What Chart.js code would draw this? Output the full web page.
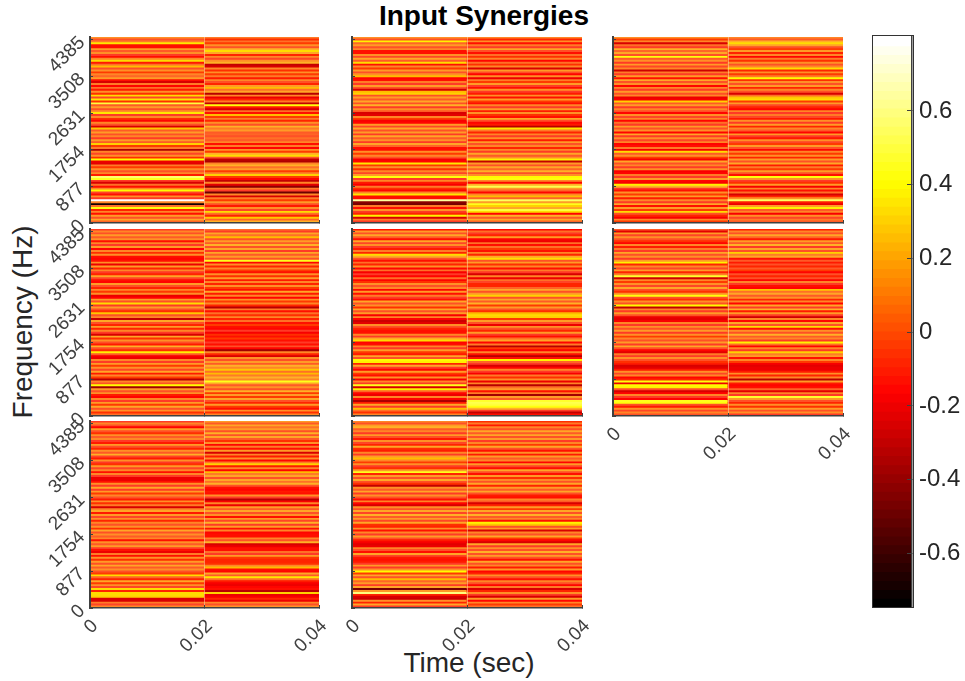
<!DOCTYPE html>
<html>
<head>
<meta charset="utf-8">
<title>Input Synergies</title>
<script src="https://cdn.jsdelivr.net/npm/chart.js@4"></script>
<style>
  html, body { margin: 0; background: #fff; }
  #page { position: relative; width: 965px; height: 681px; overflow: hidden; font-family: "Liberation Sans", sans-serif; color: #262626; }
  canvas { position: absolute; }
  .txt { position: absolute; white-space: nowrap; }
  #title { left: 284px; width: 400px; top: 0px; text-align: center; font-size: 28px; font-weight: bold; color: #000; }
  #xlab { left: 269px; width: 400px; top: 647px; text-align: center; font-size: 28px; }
  #ylab { left: -177px; width: 400px; top: 306px; text-align: center; font-size: 28px; transform: rotate(-90deg); }
  #cbframe { position: absolute; left: 872px; top: 35px; width: 40px; height: 571px; border: 1.5px solid #333; }
</style>
</head>
<body>
<div id="page">
  <div class="txt" id="title">Input Synergies</div>
  <div class="txt" id="xlab">Time (sec)</div>
  <div class="txt" id="ylab">Frequency (Hz)</div>
</div>
<script>
// values in hundredths, rows listed top (high freq) to bottom, a = 0-0.02 s, b = 0.02-0.04 s
const p1a = [16,2,12,36,-14,-12,18,4,16,-2,-14,14,34,-10,8,26,2,16,-4,14,6,18,-14,-26,12,-16,10,-10,16,-6,32,0,36,-6,50,4,18,2,16,36,-2,14,-6,-16,14,2,-24,28,4,18,2,14,-2,18,4,30,-4,12,-34,14,0,16,-6,40,-20,-22,12,-4,16,2,14,-10,58,46,-2,-26,8,-12,14,40,0,-14,16,-2,78,14,-68,8,42,-8,14,-12,18,2,20,6];
const p1b = [12,-6,10,-4,16,2,24,32,20,-8,14,0,16,24,-30,-24,14,-6,16,-4,12,-10,14,2,-8,18,26,10,20,-32,14,-20,-8,12,-30,44,-10,-24,10,-12,26,-4,12,-8,16,2,24,12,18,4,6,2,8,4,14,-12,12,-16,16,-4,24,32,2,-30,-34,14,24,8,18,-4,14,30,-4,-16,-30,14,-22,-42,12,-2,-48,14,-26,12,-4,18,2,-10,16,0,32,8,-8,28,6,24];
const p2a = [16,2,38,6,18,2,14,-14,-12,16,0,20,4,32,-12,14,-4,18,2,16,26,-16,-14,12,-2,18,2,-26,26,30,2,18,4,20,2,24,-2,16,4,-24,-22,14,-4,-18,-16,18,0,20,2,18,-2,22,4,16,-2,20,6,-12,-14,16,-4,14,2,-18,-16,36,-4,16,-6,14,0,18,42,-2,14,-10,-18,12,-6,-16,14,36,-12,-14,64,-42,-46,12,-12,16,-2,-8,38,-26,12,-2];
const p2b = [14,-8,16,-12,12,-2,20,2,-14,10,-6,14,-16,8,-6,14,-24,18,2,-16,16,-20,12,-4,18,-2,-12,16,-2,-10,16,-12,18,-4,-14,14,-2,18,-10,16,-6,-14,20,2,-16,-10,-32,36,12,-8,14,-2,16,-10,18,2,14,-8,14,-2,20,4,16,38,-30,18,2,22,6,24,2,16,40,42,14,-16,24,52,18,6,-16,14,26,6,54,18,46,30,20,50,34,-16,24,4,20,6];
const p3a = [16,-4,14,-26,10,-2,24,6,20,2,42,4,16,-2,18,0,14,-28,12,-2,18,-14,20,2,16,-16,14,-2,18,2,14,-20,-18,30,4,18,-2,14,2,-16,16,0,14,-16,10,-2,18,2,16,-16,20,-2,16,0,14,-16,-14,12,-18,34,4,16,-4,-18,20,2,14,-2,16,-18,-16,12,-2,18,-16,-18,38,24,-2,-12,16,-4,18,-10,14,-2,22,-12,18,-4,32,2,-8,-18,14,-4];
const p3b = [14,4,24,32,20,2,-4,18,-8,14,-16,12,-6,16,2,14,32,-8,16,-4,12,40,-6,16,2,18,-8,14,2,-26,10,28,32,-4,18,0,-8,-16,14,-2,12,0,-10,16,-2,18,-8,14,4,-16,18,-2,-10,16,0,-4,18,2,-16,14,-4,16,-8,18,2,20,-10,12,-4,18,2,-14,42,16,-2,-6,18,-18,14,-14,8,-26,-8,16,56,-10,-20,18,38,4,14,-18,16,0,12,4];
const p4a = [-2,14,2,18,4,16,-14,14,-2,18,-16,14,-6,16,-14,-16,-12,16,-20,18,-8,14,-2,-8,20,0,-12,-16,18,2,-8,14,-4,16,-20,-16,18,2,32,-2,18,2,-6,28,2,14,-30,20,2,-8,18,-8,14,-2,-26,22,-6,16,2,-10,24,2,-6,38,4,-18,-20,14,-2,18,-4,16,0,20,-10,14,-4,-32,14,2,40,-36,18,2,16,-10,-16,14,-2,18,-4,20,2,16,-6,10];
const p4b = [10,-2,20,8,26,2,18,4,24,2,20,-2,22,4,18,2,46,-16,16,-8,14,-4,-12,16,-6,18,-10,14,-8,16,-4,-12,20,-10,14,-16,16,-4,14,-8,-32,12,-12,8,-6,14,-8,8,-14,-4,-12,-16,-2,-18,-6,-14,-4,-12,-2,-14,2,-16,-38,14,-8,-26,16,2,18,4,24,14,28,8,26,12,24,14,46,20,4,16,2,24,-4,18,-4,20,2,-8,18,-4,-12,16,-6,14];
const p5a = [-12,18,2,20,4,-14,22,0,16,-2,-10,12,-8,34,20,2,-12,8,-8,16,-16,10,-18,-2,-16,10,-16,-6,16,2,14,-16,18,-14,12,-2,-14,20,2,16,-6,22,2,18,-18,14,-16,-28,-22,16,2,-8,-12,-14,14,-2,22,34,-16,-12,14,-2,18,-4,-10,20,2,40,38,-8,20,-2,-16,18,-4,-14,16,-18,14,-2,46,-26,38,6,-16,-20,14,-16,-34,-10,20,-2,26,10,-6,14];
const p5b = [-16,10,-2,-8,18,-16,-20,10,-14,8,-4,-14,14,-8,20,34,2,18,-6,14,-14,12,-2,-24,14,-20,10,0,-8,-8,6,20,2,18,30,2,20,4,24,-4,18,2,-6,26,32,30,-4,18,2,-20,16,2,-8,18,-2,-14,8,20,-16,12,-32,-4,-16,14,-12,-32,-14,38,6,-2,-24,-16,14,-2,-18,12,-6,16,-20,14,-32,8,18,-14,12,-36,18,4,48,52,50,44,24,-2,-30,-12];
const p6a = [4,-22,18,0,16,2,-6,-16,14,-10,12,-2,20,2,16,-2,18,38,-8,14,0,18,-8,12,48,-28,14,-4,16,0,20,2,-6,16,44,2,-6,16,2,40,-30,14,-2,18,2,-20,-22,-18,14,-2,16,2,18,-2,16,-4,14,2,18,-2,20,2,-16,-22,12,-2,16,2,-6,-10,-26,-22,-10,16,0,14,-16,-8,44,-20,40,38,2,-24,-16,14,-2,-16,46,42,2,-10,16,0,14,2];
const p6b = [-10,14,2,20,6,-10,18,4,24,-2,20,2,30,12,22,-12,4,-10,2,-8,4,-4,-16,2,-8,2,-16,14,-2,-12,-16,28,10,22,4,16,-8,14,-16,20,-2,24,-10,18,-2,-28,14,-16,20,2,34,-14,16,2,24,4,14,-2,38,8,-16,14,-2,30,12,18,-12,14,-4,-18,-22,-20,-20,-10,16,-8,14,-32,18,-10,-16,-12,6,-22,14,-2,48,18,2,-8,16,-6,18,2,16,-2];
const p7a = [-2,14,2,-16,18,2,-6,16,4,14,-2,-10,18,2,-8,16,4,24,0,-10,16,-2,-6,18,0,14,-12,14,-2,-20,-20,-14,16,-2,20,-2,18,-4,14,2,-10,16,-6,12,-24,14,22,-10,18,0,16,-8,14,2,16,-6,20,2,16,4,14,-12,16,4,18,-2,-14,-20,12,-14,16,-6,18,2,20,4,16,2,-4,34,6,-8,22,-4,16,0,32,-8,34,32,30,-26,-24,12,0,14];
const p7b = [18,4,22,8,18,2,24,2,20,4,-6,16,-16,12,-12,18,-24,14,-10,16,-16,12,30,-10,14,-16,26,12,20,2,22,8,24,2,-12,-16,-10,-14,16,-2,-32,-18,14,-20,18,4,22,2,16,-14,18,0,24,-2,18,-12,14,-16,-14,-12,14,2,24,-26,-20,-12,-14,10,-2,18,-4,-8,-8,-6,14,26,-14,-16,20,4,36,8,-10,-18,-20,-16,-12,-32,30,-20,-18,-8,-20,14,2,16];
const p8a = [14,2,18,24,4,14,-2,18,2,-10,16,0,-8,20,-6,-10,14,-2,18,26,14,-4,16,-2,-6,18,46,-8,18,2,20,2,-6,-30,16,4,20,-2,16,2,-12,14,-16,-24,16,2,22,0,24,4,18,0,20,-6,-8,16,-14,14,-2,18,2,-10,-18,-22,-20,14,2,-14,20,0,-10,-12,-10,-2,18,-2,16,40,-4,22,2,26,6,18,-2,22,-46,18,60,-8,-26,-28,16,-8,20,-2];
const p8b = [-6,12,-10,14,2,20,4,22,2,18,-2,14,-4,20,2,-12,16,-10,18,4,14,-16,18,0,-12,20,2,-14,18,-6,14,2,20,-8,18,4,22,2,-10,-12,14,4,-24,-8,18,-4,20,2,24,4,14,-14,38,28,2,18,-24,14,2,20,-4,-16,-26,20,-2,16,2,24,2,18,2,-12,20,2,14,-10,18,-16,-8,16,2,-14,14,2,-16,12,-26,-8,16,-2,-24,18,-16,14,-4,10];

const panels = [
  { col: 0, row: 0, a: p1a, b: p1b, yLab: true, xLab: false },
  { col: 1, row: 0, a: p2a, b: p2b, yLab: false, xLab: false },
  { col: 2, row: 0, a: p3a, b: p3b, yLab: false, xLab: false },
  { col: 0, row: 1, a: p4a, b: p4b, yLab: true, xLab: false },
  { col: 1, row: 1, a: p5a, b: p5b, yLab: false, xLab: false },
  { col: 2, row: 1, a: p6a, b: p6b, yLab: false, xLab: true },
  { col: 0, row: 2, a: p7a, b: p7b, yLab: true, xLab: true },
  { col: 1, row: 2, a: p8a, b: p8b, yLab: false, xLab: true },
];

const timeEdges = [0, 0.02, 0.04];
const xTickLabels = ['0', '0.02', '0.04'];
const yTicks = [0, 877, 1754, 2631, 3508, 4385];
const yMax = 4450;

const barTicks = [-0.6, -0.4, -0.2, 0, 0.2, 0.4, 0.6];
const barLevels = [-0.733,-0.709,-0.685,-0.661,-0.636,-0.612,-0.588,-0.564,-0.540,-0.516,-0.491,-0.467,-0.443,-0.419,-0.395,-0.371,-0.347,-0.322,-0.298,-0.274,-0.250,-0.226,-0.202,-0.177,-0.153,-0.129,-0.105,-0.081,-0.057,-0.032,-0.008,0.016,0.040,0.064,0.088,0.112,0.137,0.161,0.185,0.209,0.233,0.257,0.282,0.306,0.330,0.354,0.378,0.402,0.426,0.451,0.475,0.499,0.523,0.547,0.571,0.596,0.620,0.644,0.668,0.692,0.716,0.741,0.765,0.789];
const cMin = -0.745, cMax = 0.803;

const colX = [[90, 319], [352, 582], [613, 843]];
const rowY = [[37, 223], [229, 416], [421, 608]];
const M = { l: 62, t: 24, r: 34, b: 62 };
const axisColor = '#404040';

// matlab "hot" with 64 steps
function hot(v, tint = 0) {
  const t = Math.max(0, Math.min(63, Math.floor((v - cMin) / (cMax - cMin) * 64))) / 63;
  const r = Math.min(1, t / 0.375);
  const g = Math.max(0, Math.min(1, (t - 0.375) / 0.375));
  const b = Math.max(0, (t - 0.75) / 0.25);
  return `rgb(${Math.round(r * 255)},${Math.round(g * 255)},${Math.round(b * 255) + tint})`;
}

// the heatmap stripes in the source look a bit washed out in the mid range
function cellColor(v) {
  return hot(v, v > -0.04 && v < 0.26 ? 38 : 0);
}

function noAxisPadding(s) {
  s.paddingTop = s.paddingBottom = s.paddingLeft = s.paddingRight = 0;
}

function addCanvas(x, y, w, h) {
  const c = document.createElement('canvas');
  c.width = w; c.height = h;
  c.style.cssText = `left:${x}px;top:${y}px;width:${w}px;height:${h}px`;
  document.getElementById('page').appendChild(c);
  return c;
}

function drawPanel(p) {
  const [x0, x1] = colX[p.col];
  const [y0, y1] = rowY[p.row];
  const c = addCanvas(x0 - M.l, y0 - M.t, x1 - x0 + M.l + M.r, y1 - y0 + M.t + M.b);
  const n = p.a.length;
  const pts = [], cols = [];
  [p.a, p.b].forEach((vals, k) => {
    vals.forEach((v, i) => {
      pts.push({ x: [timeEdges[k], timeEdges[k + 1]], y: (vals.length - i - 0.5) * yMax / vals.length });
      cols.push(cellColor(v / 100));
    });
  });
  new Chart(c, {
    type: 'bar',
    data: { datasets: [{ data: pts, backgroundColor: cols, borderWidth: 0, barThickness: (y1 - y0) / n + 0.3 }] },
    options: {
      indexAxis: 'y',
      responsive: false,
      animation: false,
      layout: { autoPadding: false, padding: { top: M.t, right: M.r, left: 0, bottom: 0 } },
      plugins: { legend: { display: false }, tooltip: { enabled: false } },
      scales: {
        x: {
          type: 'linear', min: 0, max: 0.04,
          afterBuildTicks: s => { s.ticks = timeEdges.map(v => ({ value: v })); },
          afterFit: s => { s.height = M.b; noAxisPadding(s); },
          border: { color: axisColor, width: 1.5, z: 1 },
          grid: {
            z: 1, tickLength: -3, tickColor: axisColor,
            color: ctx => (ctx.tick && ctx.tick.value === 0.02 ? 'rgba(255,210,170,0.55)' : 'rgba(0,0,0,0)'),
          },
          ticks: {
            display: p.xLab, autoSkip: false, minRotation: 45, maxRotation: 45, padding: 10, labelOffset: 5, color: '#404040',
            font: { family: 'Liberation Sans', size: 19 },
            callback: (v, i) => xTickLabels[i],
          },
        },
        y: {
          type: 'linear', min: 0, max: yMax, offset: false,
          afterBuildTicks: s => { s.ticks = yTicks.map(v => ({ value: v })); },
          afterFit: s => { s.width = M.l; noAxisPadding(s); },
          border: { color: axisColor, width: 2, z: 1 },
          grid: { z: 1, offset: false, drawOnChartArea: false, tickLength: -3, tickColor: axisColor },
          ticks: {
            display: p.yLab, autoSkip: false, minRotation: 45, maxRotation: 45, padding: 11, color: '#404040',
            font: { family: 'Liberation Sans', size: 19 },
            callback: v => String(v),
          },
        },
      },
    },
  });
}

function drawColorbar() {
  const x0 = 873, x1 = 912, y0 = 36, y1 = 607, right = 52;
  const c = addCanvas(x0, y0 - 14, x1 - x0 + right, y1 - y0 + 28);
  new Chart(c, {
    type: 'bar',
    data: {
      datasets: [{
        data: barLevels.map(v => ({ x: [0, 1], y: v })),
        backgroundColor: barLevels.map(v => hot(v)),
        borderWidth: 0,
        barThickness: (y1 - y0) / barLevels.length + 0.6,
      }],
    },
    options: {
      indexAxis: 'y',
      responsive: false,
      animation: false,
      layout: { autoPadding: false, padding: { top: 14, bottom: 14, left: 0, right: 0 } },
      plugins: { legend: { display: false }, tooltip: { enabled: false } },
      scales: {
        x: { type: 'linear', min: 0, max: 1, display: false },
        y: {
          type: 'linear', position: 'right', min: cMin, max: cMax, offset: false,
          afterBuildTicks: s => { s.ticks = barTicks.map(v => ({ value: v })); },
          afterFit: s => { s.width = right; noAxisPadding(s); },
          border: { color: axisColor, width: 1.5, z: 1 },
          grid: { z: 1, offset: false, drawOnChartArea: false, tickLength: -5, tickColor: axisColor },
          ticks: {
            autoSkip: false, padding: 12, color: '#262626',
            font: { family: 'Liberation Sans', size: 24 },
            callback: v => String(v),
          },
        },
      },
    },
  });
  const f = document.createElement('div');
  f.id = 'cbframe';
  document.getElementById('page').appendChild(f);
}

panels.forEach(drawPanel);
drawColorbar();
</script>
</body>
</html>
